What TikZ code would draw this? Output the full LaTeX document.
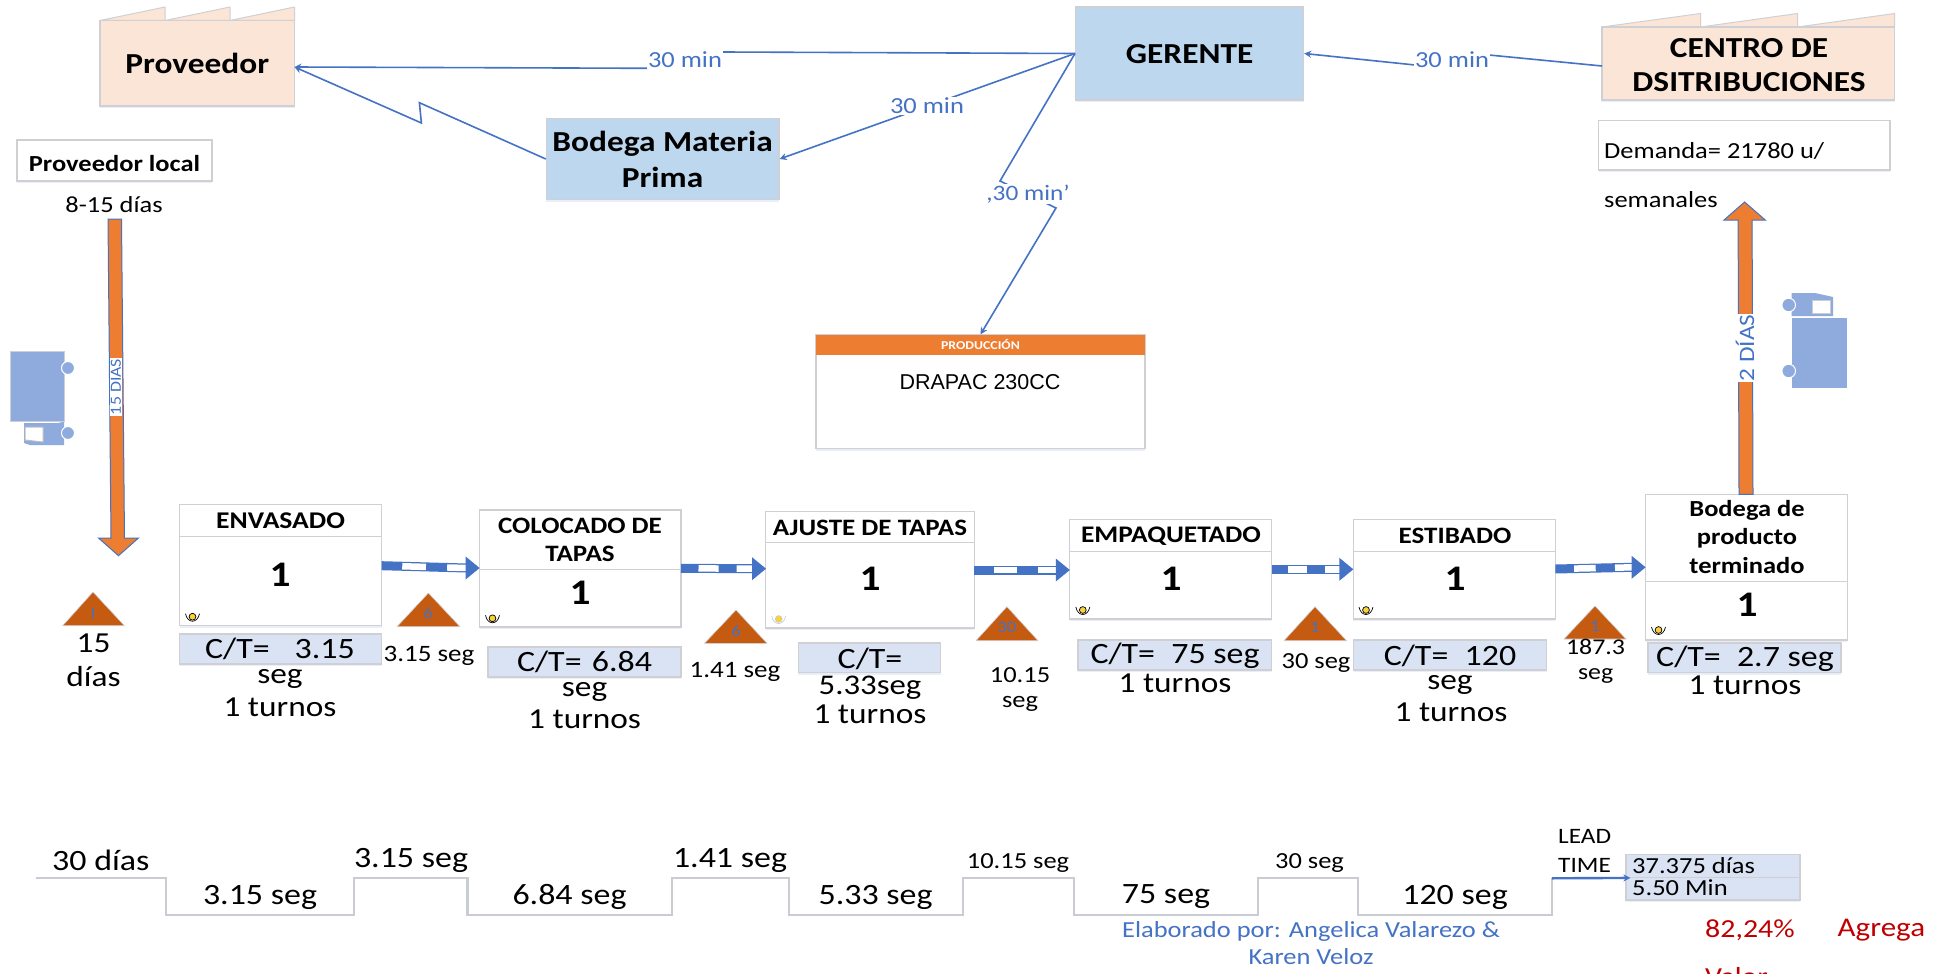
\documentclass[tikz,border=0pt]{standalone}
\usepackage{fontspec}
\setmainfont[FakeStretch=1.15]{Carlito}
\newfontfamily\arialf{Liberation Sans}
\usetikzlibrary{arrows.meta,shadows,calc}
\definecolor{peach}{HTML}{FBE5D6}
\definecolor{skyb}{HTML}{BDD7EE}
\definecolor{ctfill}{HTML}{DAE3F3}
\definecolor{tribrown}{HTML}{C55A11}
\definecolor{orangeb}{HTML}{ED7D31}
\definecolor{lineb}{HTML}{4472C4}
\definecolor{truckb}{HTML}{8FAADC}
\definecolor{edgeg}{HTML}{D0D0D4}
\definecolor{stepg}{HTML}{C9CCD2}
\definecolor{redt}{HTML}{C00000}
\newcommand{\fz}[1]{\fontsize{#1}{#1}\selectfont}
\tikzset{
  softshadow/.style={drop shadow={shadow xshift=0pt,shadow yshift=-2pt,fill=lineb!25,opacity=.45}},
  panel/.style={draw=edgeg,line width=1.2pt,inner sep=0pt,align=center,text=black},
  whitepanel/.style={panel,fill=white,softshadow},
  peachpanel/.style={panel,fill=peach,softshadow},
  bluepanel/.style={panel,fill=skyb,softshadow},
  ctpanel/.style={panel,fill=ctfill,softshadow},
  txt/.style={inner sep=0pt,align=center,text=black},
  linklabel/.style={fill=white,inner sep=1pt,text=lineb},
  infolink/.style={draw=lineb,line width=1.6pt,-{Stealth[length=7pt,width=7pt]}},
  steptime/.style={draw=stepg,line width=2.2pt},
  bigarrow/.style={draw=lineb,line width=1pt,fill=orangeb}
}
% [opts]{style}{name}{x1}{y1}{x2}{y2}{text}
\newcommand{\rnode}[8][]{%
  \pgfmathsetmacro\rcx{(#4+#6)/2}\pgfmathsetmacro\rcy{(#5+#7)/2}%
  \pgfmathsetmacro\rw{#6-#4}\pgfmathsetmacro\rh{#7-#5}%
  \node[#2,minimum width=\rw pt,minimum height=\rh pt,#1] (#3) at (\rcx,\rcy) {#8};}
% [opts]{name}{x}{y}{size}{text}
\newcommand{\tx}[6][]{\node[txt,#1] (#2) at (#3,#4) {\fz{#5}#6};}
% teeth: x1 x2 x3 x4 ybody ypeak
\newcommand{\teeth}[6]{%
  \draw[draw=edgeg,line width=1pt,fill=peach,line join=round]
    (#1,#5) -- (#2,#6) -- (#2,#5) -- (#3,#6) -- (#3,#5) -- (#4,#6) -- (#4,#5) -- cycle;}
% triangle: name xapex yapex xl xr ybase, then label y and text
\newcommand{\tri}[8]{%
  \draw[fill=tribrown,draw=edgeg,line width=.6pt,line join=round] (#4,#6) -- (#2,#3) -- (#5,#6) -- cycle;
  \node[txt,text=lineb] (#1) at (#2,#7) {\fz{16}#8};}
% push arrow from named coordinate to named coordinate
\newcommand{\pusharrow}[2]{%
  \draw[lineb,line width=9pt] (#1) -- ($(#2)+(-13,0)$);
  \path let \p1=($(#2)-(#1)$), \n1={(\x1-13pt)*0.243}, \n2={(\x1-13pt)*0.279}, \n3={(\x1-13pt)*0.25}, \n4={(\x1-13pt)*0.228} in
    coordinate (tmpa) at (#1)
    [draw=white,line width=6.5pt,dash pattern=on 0pt off \n1 on \n2 off \n3 on \n4 off 200pt] (#1) -- ($(#2)+(-13,0)$);
  \fill[lineb] ($(#2)+(-14,-11.5)$) -- (#2) -- ($(#2)+(-14,11.5)$) -- cycle;}
\newcommand{\opicon}[3]{%
  \draw[#3,line width=.7pt] (#1-7,#2-3) .. controls (#1-5,#2+7) and (#1+5,#2+7) .. (#1+7,#2-3);
  \draw[#3,line width=.7pt,fill=yellow!60!orange!80] (#1,#2) circle (3.4);}
\begin{document}
\begin{tikzpicture}[x=1pt,y=-1pt]
\useasboundingbox (0,0) rectangle (1933,974);
\fill[white] (0,0) rectangle (1933,974);

% factories and top boxes
\teeth{100}{165}{230}{294.5}{20.5}{7}
\rnode{peachpanel}{prov}{100}{20.5}{294.5}{106}{\fz{29}\bfseries Proveedor}
\teeth{1602}{1700.6}{1797.6}{1894.6}{27}{13.5}
\rnode{peachpanel}{centro}{1602}{27}{1894.6}{100}{}
\tx{centroa}{1749}{48}{29}{\bfseries CENTRO DE}
\tx{centrob}{1749}{82}{29}{\bfseries DSITRIBUCIONES}
\rnode{bluepanel}{bodmp}{546.4}{118.5}{779}{199.5}{}
\tx{bodmpa}{662.6}{144}{29}{\bfseries Bodega Materia}
\tx{bodmpb}{662.6}{177}{29}{\bfseries Prima}
\rnode{bluepanel}{ger}{1075.6}{7}{1303.6}{100}{}
\tx{gert}{1189.6}{54.5}{29}{\bfseries GERENTE}
\rnode{whitepanel}{provloc}{17}{140}{212}{181}{}
\tx{provloct}{114.5}{164}{23}{\bfseries Proveedor local}
\tx{plazo}{114}{205}{23}{8-15 días}
\rnode{whitepanel}{dem}{1598.8}{120.5}{1890}{170}{}
\tx[anchor=west]{dema}{1604}{151}{23}{Demanda= 21780 u/}
\tx[anchor=west]{demb}{1604}{200}{23}{semanales}

% produccion
\rnode{whitepanel}{pcn}{816}{335}{1145}{448.5}{}
\fill[orangeb] (816,335) rectangle (1145,355);
\tx{pcnt}{980.5}{345}{12}{\bfseries\color{white}PRODUCCIÓN}
\tx{pcnd}{980}{382}{21.5}{\arialf DRAPAC 230CC}

% information links
\coordinate (provin) at (294.5,67);
\coordinate (ga) at (723,52);
\coordinate (gb) at (647.5,68.3);
\draw[infolink] (ger.west) -- (ga) -- (gb) -- (provin);
\node[linklabel] (lab1) at (685,60) {\fz{23}30 min};
\coordinate (za) at (419.4,102.7);
\coordinate (zb) at (421.4,123);
\draw[infolink] (bodmp.west) -- (za) -- (zb) -- (provin);
\draw[infolink] (ger.west) -- (bodmp.east);
\node[linklabel] (lab2) at (927,106) {\fz{23}30 min};
\coordinate (pa) at (1000,181);
\coordinate (pb) at (1056,208);
\draw[infolink] (ger.west) -- (pa) -- (pb) -- (pcn.north);
\node[linklabel] (lab3) at (1028,194) {\fz{22},30 min'};
\coordinate (cout) at (1602,66);
\coordinate (ca) at (1489,55);
\coordinate (cb) at (1415,65);
\draw[infolink] (cout) -- (ca) -- (cb) -- (ger.east);
\node[linklabel] (lab4) at (1452,60) {\fz{23}30 min};

% processes
\rnode{whitepanel}{env}{179.6}{504.3}{381.6}{625.7}{}
\draw[edgeg,line width=1pt] (179.6,536) -- (381.6,536);
\tx{envt}{280.6}{521}{24}{\bfseries ENVASADO}
\tx{envn}{280}{575}{36}{\bfseries 1}
\opicon{192.5}{616.7}{black}
\rnode{ctpanel}{envc}{179.6}{634}{381.6}{664}{}
\tx{envca}{280}{649}{29.5}{C/T=\hspace{.85em}3.15}
\tx{envcb}{280}{679}{29}{seg}
\tx{envcc}{280}{707.5}{29}{1 turnos}

\rnode{whitepanel}{col}{479.6}{510}{681}{627}{}
\draw[edgeg,line width=1pt] (479.6,569) -- (681,569);
\tx{colta}{580}{526}{23.5}{\bfseries COLOCADO DE}
\tx{coltb}{580}{554}{23.5}{\bfseries TAPAS}
\tx{coln}{580}{593}{36}{\bfseries 1}
\opicon{492.5}{618.3}{black}
\rnode{ctpanel}{colc}{488}{647}{681}{677}{}
\tx{colca}{584.6}{662}{29.5}{C/T=\hspace{.35em}6.84}
\tx{colcb}{584.6}{692}{29}{seg}
\tx{colcc}{584.6}{719.5}{29}{1 turnos}

\rnode{whitepanel}{aju}{765.8}{511.7}{974.3}{628}{}
\draw[edgeg,line width=1pt] (765.8,542.7) -- (974.3,542.7);
\tx{ajut}{870}{527.7}{23.5}{\bfseries AJUSTE DE TAPAS}
\tx{ajun}{870}{579}{36}{\bfseries 1}
\opicon{778.7}{619}{gray!40}
\rnode{ctpanel}{ajuc}{798.4}{643}{940.8}{672.7}{}
\tx{ajuca}{870}{659}{29.5}{C/T=}
\tx{ajucb}{870}{687.5}{28.5}{5.33seg}
\tx{ajucc}{870}{714.5}{29}{1 turnos}

\rnode{whitepanel}{emp}{1069.8}{519.3}{1271.6}{619}{}
\draw[edgeg,line width=1pt] (1069.8,551.3) -- (1271.6,551.3);
\tx{empt}{1171}{535.7}{23.8}{\bfseries EMPAQUETADO}
\tx{empn}{1171}{579}{36}{\bfseries 1}
\opicon{1082.8}{610}{black}
\rnode{ctpanel}{empc}{1078}{640}{1271.6}{670}{}
\tx{empca}{1175}{656}{29.5}{C/T=\hspace{.55em}75 seg}
\tx{empcb}{1175}{683.5}{29}{1 turnos}

\rnode{whitepanel}{est}{1353.3}{519.3}{1555.4}{619}{}
\draw[edgeg,line width=1pt] (1353.3,551.3) -- (1555.4,551.3);
\tx{estt}{1455}{535.7}{23.5}{\bfseries ESTIBADO}
\tx{estn}{1455}{579}{36}{\bfseries 1}
\opicon{1366}{610}{black}
\rnode{ctpanel}{estc}{1353.7}{640}{1546.6}{670}{}
\tx{estca}{1450}{656}{29.5}{C/T=\hspace{.55em}120}
\tx{estcb}{1450}{684.5}{29}{seg}
\tx{estcc}{1451}{712.5}{29}{1 turnos}

\rnode{whitepanel}{bpt}{1645.6}{494.3}{1847.3}{640}{}
\draw[edgeg,line width=1pt] (1645.6,581) -- (1847.3,581);
\tx{bpta}{1747}{510.5}{23}{\bfseries Bodega de}
\tx{bptb}{1747}{538.5}{23}{\bfseries producto}
\tx{bptc}{1747}{566}{23}{\bfseries terminado}
\tx{bptn}{1747}{605}{36}{\bfseries 1}
\opicon{1658.5}{630}{black}
\rnode{ctpanel}{bptd}{1648}{643}{1841}{672.7}{}
\tx{bptca}{1745}{659}{29.5}{C/T=\hspace{.55em}2.7 seg}
\tx{bptcb}{1745}{685.5}{29}{1 turnos}

% push arrows
\coordinate (pa1) at (381.6,565.7); \coordinate (pb1) at (479.6,568);
\coordinate (pa2) at (681,568.3);   \coordinate (pb2) at (766,568.7);
\coordinate (pa3) at (974.3,570);   \coordinate (pb3) at (1069.8,570);
\coordinate (pa4) at (1271.6,569.3);\coordinate (pb4) at (1353.3,569.3);
\coordinate (pa5) at (1555.4,569);  \coordinate (pb5) at (1645.6,567.3);
\pusharrow{pa1}{pb1}
\pusharrow{pa2}{pb2}
\pusharrow{pa3}{pb3}
\pusharrow{pa4}{pb4}
\pusharrow{pa5}{pb5}

% inventory triangles
\tri{tria}{93}{592}{62.7}{124.4}{625.7}{613}{I}
\tx{tria1}{93.5}{643}{29}{15}
\tx{tria2}{93.5}{677}{29}{días}
\tri{trib}{428.4}{593}{397}{460}{626.7}{613}{6}
\tx{trib1}{429}{656}{23.5}{3.15 seg}
\tri{tric}{736}{610}{704.5}{767}{643.3}{631}{6}
\tx{tric1}{735}{672}{23.5}{1.41 seg}
\tri{trid}{1006.9}{606.7}{976}{1038}{640.7}{627.7}{30}
\tx{trid1}{1020}{675.5}{23}{10.15}
\tx{trid2}{1020}{704}{23}{seg}
\tri{trie}{1315}{606.7}{1284}{1346.6}{640.7}{627.7}{1}
\tx{trie1}{1316}{663.5}{23}{30 seg}
\tri{trif}{1595}{606}{1564}{1626}{639}{626.7}{1}
\tx{trif1}{1595.6}{647}{22.5}{187.3}
\tx{trif2}{1595.6}{676}{22.5}{seg}

% shipment arrows
\coordinate (lt) at (115,219);
\coordinate (lb) at (118.5,555.7);
\draw[bigarrow,line join=miter] ($(lt)+(-7,0)$) -- ($(lt)+(6.5,0)$) -- ($(lb)+(6,-17.7)$) -- ($(lb)+(20,-17.7)$) -- (lb) -- ($(lb)+(-20,-17.7)$) -- ($(lb)+(-7.5,-17.7)$) -- cycle;
\node[txt,fill=white,text=lineb,rotate=90,inner xsep=.5pt,inner ysep=1pt] (lbl15) at (116,387) {\fz{15.5}15 DIAS};
\coordinate (rb) at (1746,494.3);
\coordinate (rt) at (1744.6,202);
\draw[bigarrow,line join=miter] ($(rb)+(-7,0)$) -- ($(rt)+(-6.5,18)$) -- ($(rt)+(-20.6,18)$) -- (rt) -- ($(rt)+(20.6,18)$) -- ($(rt)+(7.5,18)$) -- ($(rb)+(7,0)$) -- cycle;
\node[txt,fill=white,text=lineb,rotate=90,inner xsep=1pt,inner ysep=1pt] (lbl2) at (1745,348) {\fz{22}2 DÍAS};

% trucks
\fill[truckb] (10.7,351.7) rectangle (64,421.7);
\draw[edgeg,line width=.8pt] (10.7,421.7) -- (10.7,351.7) -- (64,351.7) -- (64,421.7) -- cycle;
\fill[truckb] (24,423) -- (58,423) -- (64,421.7) -- (64,445) -- (30,445) -- (24,443) -- cycle;
\fill[white,draw=gray!50,line width=1pt] (25,427) -- (43,427) -- (43,442) -- (25,440) -- cycle;
\fill[truckb,draw=white,line width=1pt] (68,368) circle (6.5);
\fill[truckb,draw=white,line width=1pt] (68,433) circle (6.5);
\fill[truckb] (1791.6,317.5) rectangle (1847,388);
\fill[truckb] (1791.6,293) -- (1815,293) -- (1833,297) -- (1833,316) -- (1791.6,316) -- cycle;
\fill[white,draw=gray!40,line width=.8pt] (1812,300) rectangle (1830,313);
\fill[truckb,draw=white,line width=1pt] (1788.7,305) circle (6.8);
\fill[truckb,draw=white,line width=1pt] (1788.7,371) circle (6.8);

% timeline
\coordinate (t0) at (36.4,878.3);  \coordinate (t1) at (165.8,878.3);
\coordinate (t2) at (165.8,915);   \coordinate (t3) at (354,915);
\coordinate (t4) at (354,878.3);   \coordinate (t5) at (467.5,878.3);
\coordinate (t6) at (467.5,915);   \coordinate (t7) at (671.6,915);
\coordinate (t8) at (671.6,878.3); \coordinate (t9) at (789,878.3);
\coordinate (t10) at (789,915);    \coordinate (t11) at (963,915);
\coordinate (t12) at (963,878.3);  \coordinate (t13) at (1073.8,878.3);
\coordinate (t14) at (1073.8,915); \coordinate (t15) at (1257.7,915);
\coordinate (t16) at (1257.7,878.3);\coordinate (t17) at (1358.3,878.3);
\coordinate (t18) at (1358.3,915); \coordinate (t19) at (1551.8,915);
\coordinate (t20) at (1551.8,878.3);
\draw[steptime] (t0)--(t1)--(t2)--(t3)--(t4)--(t5)--(t6)--(t7)--(t8)--(t9)--(t10)--(t11)--(t12)--(t13)--(t14)--(t15)--(t16)--(t17)--(t18)--(t19)--(t20);
\tx{ta}{100.8}{860.7}{29.5}{30 días}
\tx{tb}{260}{897}{29.5}{3.15 seg}
\tx{tc}{411}{860.7}{29.5}{3.15 seg}
\tx{td}{569.5}{897}{29.5}{6.84 seg}
\tx{te}{730}{860.7}{29.5}{1.41 seg}
\tx{tf}{875.6}{897}{29.5}{5.33 seg}
\tx{tg}{1018}{862.7}{23}{10.15 seg}
\tx{th}{1166}{897}{29.5}{75 seg}
\tx{ti}{1309.5}{862.7}{23}{30 seg}
\tx{tj}{1455}{897}{29.5}{120 seg}
\tx[anchor=west]{leada}{1558}{836.7}{22}{LEAD}
\tx[anchor=west]{leadb}{1558}{865}{22}{TIME}
\rnode{ctpanel}{leadup}{1626}{854.3}{1800}{877.3}{}
\rnode{ctpanel}{leaddn}{1626}{877.3}{1800}{900}{}
\tx[anchor=west]{leadc}{1632}{865.5}{23}{37.375 días}
\tx[anchor=west]{leadd}{1632}{888}{23}{5.50 Min}
\draw[draw=lineb,line width=2.4pt,-{Stealth[length=7pt,width=7pt]}] (t20) -- ($(leadup.south west)+(5,0)$);
\tx[text=lineb]{elaba}{1311}{931}{23}{Elaborado por: Angelica Valarezo \&}
\tx[text=lineb]{elabb}{1311}{957}{23}{Karen Veloz}
\tx[anchor=west,text=redt]{pct}{1705}{930}{26}{82,24\%}
\tx[anchor=west,text=redt]{agr}{1837.5}{930}{27}{Agrega}
\tx[anchor=west,text=redt]{val}{1705}{977}{26}{Valor}
\end{tikzpicture}
\end{document}
